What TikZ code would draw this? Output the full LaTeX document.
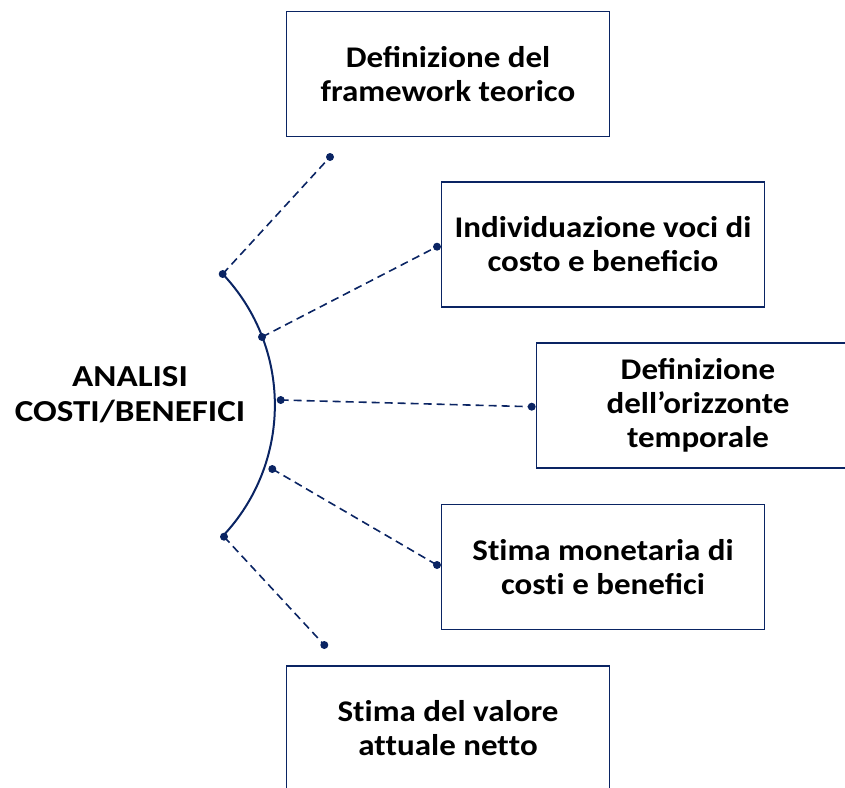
\documentclass[tikz,border=0pt]{standalone}
\usepackage{fontspec}
\setmainfont{Carlito}
\newfontfamily\boxfont[FakeStretch=1.1]{Carlito}
\newfontfamily\mainfont[FakeStretch=1.15]{Carlito}
\newcommand{\nolig}{\kern0pt }
\definecolor{navy}{RGB}{10,36,99}
\tikzset{
  stepbox/.style={draw=navy, line width=1.8pt, fill=white, minimum width=323pt, minimum height=125pt, align=center, inner sep=0pt,
    font=\boxfont\fontsize{30}{34}\selectfont\bfseries, text=black},
  conn/.style={draw=navy, line width=1.6pt, dash pattern=on 8pt off 5pt},
  dotc/.style={fill=navy},
}
\begin{document}
\begin{tikzpicture}[x=1pt,y=-1pt]
\useasboundingbox[clip] (0,0) rectangle (845,787);
\node[stepbox] (b1) at (448,74) {Definizione del\\framework teorico};
\node[stepbox] (b2) at (603,244.5) {Individuazione voci di\\costo e beneficio};
\node[stepbox] (b3) at (698,405.5) {Definizione\\dell’orizzonte\\temporale};
\node[stepbox] (b4) at (603,567) {St\nolig ima monetaria di\\cost\nolig i e benefici};
\node[stepbox] (b5) at (448,728.5) {St\nolig ima del valore\\at\nolig tuale net\nolig to};
\node[align=center, font=\mainfont\fontsize{30.5}{35}\selectfont\bfseries, text=black] (main) at (130,395) {ANALISI\\COSTI/BENEFICI};
% arc end points and dots
\coordinate (a1) at (222.7,274);
\coordinate (a2) at (262,337);
\coordinate (a3) at (280.7,400);
\coordinate (a4) at (272.3,469);
\coordinate (a5) at (224,536.7);
\coordinate (e1) at (330,157);
\coordinate (e2) at (437,246.7);
\coordinate (e3) at (531.7,406.7);
\coordinate (e4) at (437,565);
\coordinate (e5) at (324.3,645);
\draw[navy, line width=2pt] (a1) arc[start angle=43.4, end angle=-43.3, radius=190.8pt];
\foreach \i in {1,...,5}{
  \draw[conn] (a\i) -- (e\i);
  \fill[dotc] (a\i) circle[radius=4pt];
  \fill[dotc] (e\i) circle[radius=4pt];
}
\end{tikzpicture}
\end{document}
